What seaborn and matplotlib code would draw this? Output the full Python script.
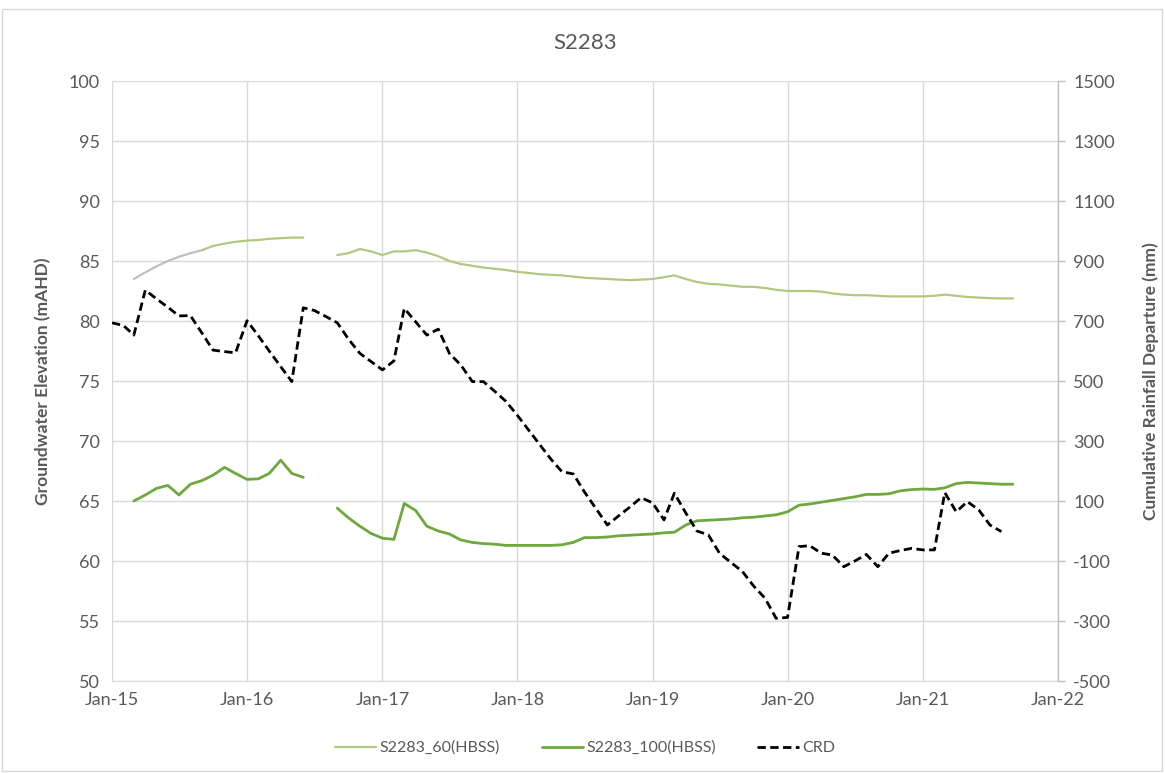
import numpy as np
import pandas as pd
import matplotlib
matplotlib.use("Agg")
import matplotlib.pyplot as plt
import matplotlib.dates as mdates
from matplotlib.lines import Line2D
from matplotlib.patches import Rectangle
import seaborn as sns

# ---- data -------------------------------------------------------------
# S2283_60 (HBSS) groundwater elevation, mAHD, monthly
s60_a_start = "2015-03-01"
s60_a = [83.5, 84.05, 84.55, 85.0, 85.35, 85.65, 85.9, 86.25, 86.45, 86.6,
         86.7, 86.75, 86.85, 86.9, 86.95, 86.95]
s60_b_start = "2016-09-01"
s60_b = [85.5, 85.65, 86.0, 85.8, 85.5, 85.8, 85.8, 85.9, 85.7, 85.4,
         85.0, 84.75, 84.6, 84.45, 84.35, 84.25, 84.1, 84.0, 83.9, 83.85,
         83.8, 83.7, 83.6, 83.55, 83.5, 83.45, 83.4, 83.45, 83.5, 83.65,
         83.8, 83.5, 83.25, 83.1, 83.05, 82.95, 82.85, 82.85, 82.75, 82.6,
         82.5, 82.5, 82.5, 82.45, 82.3, 82.2, 82.15, 82.15, 82.1, 82.05,
         82.05, 82.05, 82.05, 82.1, 82.2, 82.1, 82.0, 81.95, 81.9, 81.88,
         81.88]

# S2283_100 (HBSS) groundwater elevation, mAHD, monthly
s100_a_start = "2015-03-01"
s100_a = [65.0, 65.5, 66.05, 66.3, 65.5, 66.4, 66.7, 67.15, 67.8, 67.3,
          66.8, 66.85, 67.3, 68.4, 67.3, 66.97]
s100_b_start = "2016-09-01"
s100_b = [64.4, 63.6, 62.9, 62.3, 61.9, 61.8, 64.8, 64.2, 62.9, 62.5,
          62.25, 61.75, 61.55, 61.45, 61.4, 61.3, 61.3, 61.3, 61.3, 61.3,
          61.35, 61.55, 61.95, 61.95, 62.0, 62.1, 62.15, 62.2, 62.25, 62.35,
          62.4, 63.0, 63.35, 63.4, 63.45, 63.5, 63.6, 63.65, 63.75, 63.85,
          64.1, 64.65, 64.75, 64.9, 65.05, 65.2, 65.35, 65.55, 65.55, 65.6,
          65.85, 65.95, 66.0, 65.97, 66.1, 66.45, 66.55, 66.5, 66.45, 66.4,
          66.4]

# Cumulative rainfall departure, mm, monthly
crd_start = "2015-01-01"
crd = [694, 685, 653, 803, 774, 746, 717, 718, 660, 603, 598, 594,
       701, 650, 600, 548, 498, 744, 735, 715, 694, 640, 592, 565,
       537, 567, 742, 697, 653, 673, 592, 553, 498, 498, 465, 432,
       385, 335, 290, 240, 198, 190, 130, 75, 20, 50, 80, 111,
       94, 37, 126, 60, 0, -13, -74, -105, -135, -183, -224, -291,
       -288, -52, -49, -74, -80, -119, -100, -78, -119, -74, -65, -58,
       -63, -63, 128, 64, 98, 70, 20, -2]

year_ticks = ["2015", "2016", "2017", "2018", "2019", "2020", "2021", "2022"]
left_ticks = list(range(50, 101, 5))
right_ticks = list(range(-500, 1501, 200))


def monthly(start, values):
    return pd.DataFrame({"date": pd.date_range(start, periods=len(values), freq="MS"),
                         "value": values})


df60a = monthly(s60_a_start, s60_a)
df60b = monthly(s60_b_start, s60_b)
df100a = monthly(s100_a_start, s100_a)
df100b = monthly(s100_b_start, s100_b)
dfcrd = monthly(crd_start, crd)

# ---- style ------------------------------------------------------------
sns.set_style("white")
plt.rcParams["font.family"] = ["Lato", "DejaVu Sans"]
plt.rcParams["axes.unicode_minus"] = False
txt = "#595959"
grid_c = "#D9D9D9"
c60 = "#B3C77F"
c60_grey = "#BFBFBF"
c100 = "#6FA83F"

fig = plt.figure(figsize=(11.65, 7.73), dpi=100)
ax = fig.add_axes([112 / 1165, 1 - 681 / 773, (1058 - 112) / 1165, 600 / 773])
ax2 = ax.twinx()

# groundwater elevations on the left axis
split = 6  # first months of the shallow series are drawn grey
sns.lineplot(data=df60a.iloc[:split + 1], x="date", y="value", ax=ax,
             color=c60_grey, linewidth=1.6)
sns.lineplot(data=df60a.iloc[split:], x="date", y="value", ax=ax,
             color=c60, linewidth=1.6)
sns.lineplot(data=df60b, x="date", y="value", ax=ax, color=c60, linewidth=1.6)
sns.lineplot(data=df100a, x="date", y="value", ax=ax, color=c100, linewidth=2.0)
sns.lineplot(data=df100b, x="date", y="value", ax=ax, color=c100, linewidth=2.0)

# rainfall departure on the right axis
sns.lineplot(data=dfcrd, x="date", y="value", ax=ax2, color="black",
             linewidth=2.0, linestyle=(0, (3, 1.6)))

# ---- axes -------------------------------------------------------------
x0 = pd.Timestamp("2015-01-01")
x1 = pd.Timestamp("2022-01-01")
ax.set_xlim(x0, x1)
ax.set_ylim(50, 100)
ax2.set_ylim(-500, 1500)

ax.set_xticks([pd.Timestamp(y + "-01-01") for y in year_ticks])
ax.xaxis.set_major_formatter(mdates.DateFormatter("%b-%y"))
ax.set_yticks(left_ticks)
ax2.set_yticks(right_ticks)

ax.grid(True, color=grid_c, linewidth=1.0)
ax.set_axisbelow(True)
for sp in ["top", "left", "right"]:
    ax.spines[sp].set_visible(False)
ax.spines["bottom"].set_color(grid_c)
for sp in ["top", "left", "bottom"]:
    ax2.spines[sp].set_visible(False)
ax2.spines["right"].set_color("#BFBFBF")
ax2.spines["right"].set_linewidth(1.0)

ax.tick_params(axis="both", length=0, labelsize=13, labelcolor=txt, pad=9)
ax.tick_params(axis="x", pad=8)
ax2.tick_params(axis="y", length=5, width=1, color="#BFBFBF", direction="out",
                labelsize=13, labelcolor=txt, pad=6)

ax.set_xlabel("")
ax.set_ylabel("Groundwater Elevation (mAHD)", fontsize=12.5, fontweight="bold",
              color=txt, labelpad=12)
ax2.set_ylabel("Cumulative Rainfall Departure (mm)", fontsize=12.5,
               fontweight="bold", color=txt, labelpad=20)

fig.text(585 / 1165, 1 - 43 / 773, "S2283", ha="center", va="center",
         fontsize=16, color=txt)

handles = [
    Line2D([], [], color=c60, linewidth=1.6),
    Line2D([], [], color=c100, linewidth=2.0),
    Line2D([], [], color="black", linewidth=2.0, linestyle=(0, (3, 1.6))),
]
fig.legend(handles, ["S2283_60(HBSS)", "S2283_100(HBSS)", "CRD"],
           loc="center", bbox_to_anchor=(585 / 1165, 1 - 748 / 773), ncol=3,
           frameon=False, fontsize=11.5, labelcolor=txt, handlelength=2.6,
           handletextpad=0.2, columnspacing=2.6)

# outer chart frame
fig.patches.append(Rectangle((2 / 1165, 2 / 773), 1160 / 1165, 762 / 773,
                             transform=fig.transFigure, fill=False,
                             edgecolor="#D9D9D9", linewidth=1.0))

fig.savefig("out.png", dpi=100, facecolor="white")
